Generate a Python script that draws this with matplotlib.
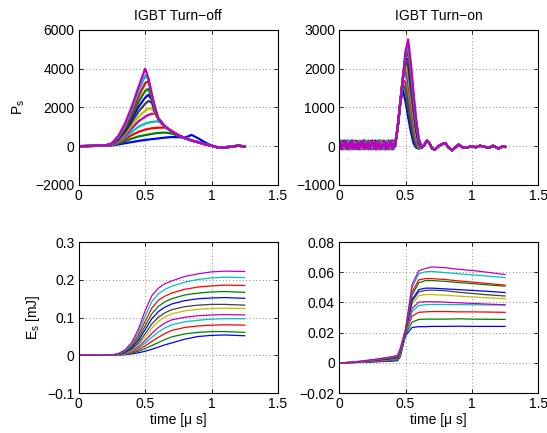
import numpy as np
import matplotlib
matplotlib.use("Agg")
import matplotlib.pyplot as plt
from matplotlib import ticker

plt.rcParams['font.family'] = ['Liberation Sans', 'DejaVu Sans']
plt.rcParams['mathtext.fontset'] = 'custom'
plt.rcParams['mathtext.rm'] = 'Liberation Sans'
plt.rcParams['mathtext.it'] = 'Liberation Sans'

# old MATLAB colour order: b g r c m y k
colors = [(0, 0, 1), (0, 0.5, 0), (1, 0, 0), (0, 0.75, 0.75),
          (0.75, 0, 0.75), (0.75, 0.75, 0), (0.25, 0.25, 0.25)]

# ---- IGBT turn-off power [W] ----
t_off = [0, 0.1, 0.2, 0.25, 0.3, 0.35, 0.4, 0.45, 0.5, 0.525, 0.55, 0.575,
         0.6, 0.65, 0.7, 0.75, 0.8, 0.85, 0.9, 0.95, 1.0, 1.05, 1.1, 1.15,
         1.2, 1.25]
tail_off = [560, 410, 290, 200, 100, 20, -70, -60, -20, 20, -10]
p_off = [
    [0, 10, 20, 40, 90, 150, 210, 270, 320, 340, 360, 380, 400, 440, 470,
     460, 440, 580, 400, 200, 30, -60, -90, -40, 20, -10],
    [0, 10, 25, 50, 140, 260, 390, 500, 570, 600, 630, 660, 680, 700, 650,
     530, 410, 290, 200, 100, 20, -70, -70, -20, 20, -10],
    [0, 10, 30, 60, 180, 360, 570, 740, 850, 890, 920, 940, 950, 960, 800] + tail_off,
    [0, 10, 30, 70, 220, 450, 740, 1000, 1160, 1210, 1250, 1270, 1280, 1050, 760] + tail_off,
    [0, 10, 35, 80, 260, 550, 920, 1280, 1520, 1610, 1660, 1680, 1450, 1020, 760] + tail_off,
    [0, 10, 35, 90, 300, 640, 1080, 1520, 1830, 1930, 1950, 1650, 1380, 1000, 760] + tail_off,
    [0, 10, 35, 100, 340, 730, 1250, 1780, 2180, 2330, 2250, 1750, 1400, 1000, 760] + tail_off,
    [0, 10, 40, 110, 380, 820, 1420, 2030, 2500, 2650, 2400, 1800, 1400, 1000, 760] + tail_off,
    [0, 10, 40, 120, 420, 900, 1580, 2280, 2850, 2950, 2500, 1850, 1400, 1000, 760] + tail_off,
    [0, 10, 40, 130, 460, 1000, 1750, 2550, 3250, 3350, 2600, 1900, 1400, 1000, 760] + tail_off,
    [0, 10, 40, 140, 500, 1100, 1900, 2800, 3650, 3450, 2650, 1950, 1400, 1000, 760] + tail_off,
    [0, 10, 40, 150, 550, 1200, 2050, 3050, 4000, 3500, 2700, 2000, 1400, 1000, 760] + tail_off,
]

# ---- IGBT turn-on power [W] ----
t_pre = [i / 100 for i in range(42)]
noise_pre = [0, 120, -70, 90, -60, 20, 140, -80, 60, -50, 110, -70, 30, 130,
             -60, 80, -80, 100, -40, 150, -70, 50, -60, 120, -80, 90, -30,
             140, -70, 60, -50, 110, -80, 40, 130, -60, 90, -70, 120, -50,
             80, -60]
t_edge = [0.42, 0.44, 0.46, 0.48, 0.50, 0.52, 0.54, 0.56, 0.58, 0.60, 0.62, 0.64]
p_edge = [
    [0, 450, 1100, 1450, 1150, 750, 380, 80, -40, -60, -40, 20],
    [0, 450, 1100, 1600, 1450, 1000, 600, 250, 0, -60, -40, 20],
    [0, 450, 1100, 1700, 1650, 1250, 800, 400, 80, -50, -40, 20],
    [0, 450, 1100, 1750, 1900, 1450, 1000, 550, 150, -30, -40, 20],
    [0, 450, 1100, 1750, 2050, 1650, 1150, 650, 220, 0, -40, 20],
    [0, 450, 1100, 1750, 2150, 1850, 1300, 780, 300, 20, -40, 20],
    [0, 450, 1100, 1750, 2200, 2050, 1450, 900, 380, 50, -40, 20],
    [0, 450, 1100, 1750, 2250, 2250, 1600, 1000, 450, 80, -40, 20],
    [0, 450, 1100, 1750, 2300, 2400, 1750, 1100, 520, 120, -30, 20],
    [0, 450, 1100, 1750, 2350, 2500, 1900, 1200, 600, 150, -20, 20],
    [0, 450, 1100, 1750, 2400, 2600, 2050, 1300, 650, 180, -10, 20],
    [0, 450, 1100, 1750, 2450, 2750, 2150, 1400, 700, 200, 0, 20],
]
t_ring = [0.66, 0.68, 0.70, 0.72, 0.75, 0.78, 0.80, 0.82, 0.85, 0.88, 0.9,
          0.93, 0.96, 1.0, 1.03, 1.06, 1.1, 1.13, 1.16, 1.2, 1.23, 1.25]
p_ring = [140, 80, -60, -90, 0, 60, 80, -20, -110, -20, 40, -30, -40, 0,
          -30, 10, -20, -40, 10, -60, -10, -20]

# ---- turn-off energy [mJ] ----
t_eoff = [0, 0.25, 0.3, 0.35, 0.4, 0.45, 0.5, 0.55, 0.6, 0.65, 0.7, 0.8,
          0.9, 1.0, 1.1, 1.25]
e_off = [
    [0, 0, 0.001, 0.002, 0.004, 0.007, 0.011, 0.016, 0.022, 0.028, 0.033, 0.043, 0.05, 0.053, 0.054, 0.052],
    [0, 0, 0.001, 0.003, 0.006, 0.011, 0.018, 0.026, 0.034, 0.042, 0.049, 0.057, 0.061, 0.063, 0.063, 0.061],
    [0, 0, 0.001, 0.003, 0.008, 0.015, 0.025, 0.037, 0.048, 0.058, 0.066, 0.074, 0.078, 0.08, 0.081, 0.08],
    [0, 0, 0.001, 0.004, 0.01, 0.019, 0.032, 0.048, 0.062, 0.073, 0.081, 0.089, 0.093, 0.096, 0.097, 0.097],
    [0, 0, 0.002, 0.005, 0.012, 0.023, 0.039, 0.058, 0.074, 0.086, 0.094, 0.101, 0.105, 0.107, 0.108, 0.107],
    [0, 0.001, 0.002, 0.006, 0.014, 0.028, 0.048, 0.072, 0.09, 0.102, 0.11, 0.118, 0.122, 0.124, 0.125, 0.124],
    [0, 0.001, 0.002, 0.007, 0.017, 0.033, 0.057, 0.083, 0.101, 0.113, 0.121, 0.129, 0.133, 0.135, 0.135, 0.133],
    [0, 0.001, 0.003, 0.009, 0.02, 0.04, 0.068, 0.097, 0.116, 0.128, 0.136, 0.145, 0.15, 0.152, 0.153, 0.151],
    [0, 0.001, 0.003, 0.01, 0.023, 0.046, 0.078, 0.11, 0.13, 0.142, 0.15, 0.16, 0.165, 0.168, 0.169, 0.167],
    [0, 0.001, 0.004, 0.012, 0.027, 0.054, 0.09, 0.125, 0.146, 0.157, 0.165, 0.175, 0.181, 0.184, 0.186, 0.185],
    [0, 0.001, 0.004, 0.013, 0.031, 0.062, 0.104, 0.142, 0.163, 0.175, 0.183, 0.194, 0.201, 0.205, 0.207, 0.206],
    [0, 0.001, 0.005, 0.015, 0.035, 0.07, 0.118, 0.158, 0.178, 0.19, 0.197, 0.209, 0.216, 0.221, 0.223, 0.222],
]

# ---- turn-on energy [mJ] ----
t_eon = [0, 0.1, 0.2, 0.3, 0.4, 0.44, 0.46, 0.5, 0.55, 0.6, 0.65, 0.7, 0.8,
         0.9, 1.0, 1.1, 1.25]
e_on = [
    [0, 0.0002, 0.0005, 0.0008, 0.0012, 0.0015, 0.004, 0.018, 0.0235, 0.024, 0.024, 0.0242, 0.0242, 0.0243, 0.0242, 0.0242, 0.0242],
    [0, 0.0002, 0.0006, 0.001, 0.0015, 0.0018, 0.0045, 0.019, 0.027, 0.0288, 0.029, 0.029, 0.029, 0.0292, 0.029, 0.0289, 0.0288],
    [0, 0.0002, 0.0007, 0.0012, 0.0018, 0.0021, 0.005, 0.02, 0.031, 0.0335, 0.0338, 0.034, 0.034, 0.0338, 0.0338, 0.0337, 0.0335],
    [0, 0.0003, 0.0008, 0.0014, 0.002, 0.0024, 0.0055, 0.02, 0.034, 0.038, 0.0385, 0.0387, 0.0386, 0.0386, 0.0385, 0.0384, 0.0383],
    [0, 0.0003, 0.0009, 0.0015, 0.0022, 0.0027, 0.006, 0.021, 0.036, 0.0402, 0.0405, 0.0405, 0.0402, 0.0398, 0.0394, 0.039, 0.0385],
    [0, 0.0003, 0.001, 0.0017, 0.0025, 0.003, 0.0065, 0.021, 0.039, 0.0445, 0.0452, 0.0452, 0.0448, 0.0442, 0.0437, 0.0432, 0.0425],
    [0, 0.0004, 0.0011, 0.0019, 0.0028, 0.0033, 0.007, 0.021, 0.041, 0.047, 0.048, 0.0482, 0.0478, 0.0468, 0.046, 0.0452, 0.0443],
    [0, 0.0004, 0.0012, 0.002, 0.003, 0.0036, 0.0075, 0.021, 0.042, 0.0485, 0.0495, 0.0495, 0.049, 0.0485, 0.048, 0.0475, 0.0466],
    [0, 0.0004, 0.0013, 0.0022, 0.0033, 0.004, 0.008, 0.021, 0.045, 0.053, 0.0545, 0.0545, 0.054, 0.0532, 0.0525, 0.0518, 0.0508],
    [0, 0.0005, 0.0014, 0.0024, 0.0036, 0.0043, 0.0085, 0.022, 0.047, 0.055, 0.0558, 0.0558, 0.0552, 0.0543, 0.0535, 0.0527, 0.0515],
    [0, 0.0005, 0.0015, 0.0026, 0.0039, 0.0047, 0.009, 0.022, 0.05, 0.059, 0.0603, 0.0605, 0.0598, 0.059, 0.0583, 0.0576, 0.0565],
    [0, 0.0005, 0.0016, 0.0028, 0.0042, 0.005, 0.0095, 0.022, 0.052, 0.061, 0.0625, 0.0635, 0.063, 0.062, 0.0612, 0.0602, 0.0585],
]

x_ticks = [0, 0.5, 1, 1.5]
fs = 10


def fmt(v, pos):
    return f'{v:g}'.replace('-', '\u2212')


def style(ax, yticks):
    ax.set_xlim(0, 1.5)
    ax.set_ylim(yticks[0], yticks[-1])
    ax.set_xticks(x_ticks)
    ax.set_yticks(yticks)
    ax.xaxis.set_major_formatter(ticker.FuncFormatter(fmt))
    ax.yaxis.set_major_formatter(ticker.FuncFormatter(fmt))
    ax.tick_params(direction='in', length=3, width=0.6, labelsize=fs,
                   top=True, right=True, pad=3)
    ax.grid(True, linestyle=(0, (1, 3)), color='0.4', linewidth=0.6)
    for s in ax.spines.values():
        s.set_linewidth(0.8)


fig = plt.figure(figsize=(5.47, 4.33), dpi=100)
ax1 = fig.add_axes([0.144, 0.573, 0.364, 0.358])
ax2 = fig.add_axes([0.620, 0.573, 0.364, 0.358])
ax3 = fig.add_axes([0.144, 0.092, 0.364, 0.349])
ax4 = fig.add_axes([0.620, 0.092, 0.364, 0.349])

for i in range(12):
    c = colors[i % 7]
    ax1.plot(t_off, p_off[i], color=c, lw=1.6)
    t_on = t_pre + t_edge + t_ring
    p_on = list(np.roll(noise_pre, 3 * i)) + p_edge[i] + p_ring
    ax2.plot(t_on, p_on, color=c, lw=1.6)
    ax3.plot(t_eoff, e_off[i], color=c, lw=0.9)
    ax4.plot(t_eon, e_on[i], color=c, lw=0.9)

style(ax1, [-2000, 0, 2000, 4000, 6000])
style(ax2, [-1000, 0, 1000, 2000, 3000])
style(ax3, [-0.1, 0, 0.1, 0.2, 0.3])
style(ax4, [-0.02, 0, 0.02, 0.04, 0.06, 0.08])

ax1.set_title('IGBT Turn\u2212off', fontsize=fs, pad=7)
ax2.set_title('IGBT Turn\u2212on', fontsize=fs, pad=7)
ax1.set_ylabel('P$_\\mathrm{s}$', fontsize=fs, labelpad=6)
ax3.set_ylabel('E$_\\mathrm{s}$ [mJ]', fontsize=fs, labelpad=4)
ax3.set_xlabel('time [\u03bc s]', fontsize=fs, labelpad=1)
ax4.set_xlabel('time [\u03bc s]', fontsize=fs, labelpad=1)

fig.savefig('out.png', dpi=100)
